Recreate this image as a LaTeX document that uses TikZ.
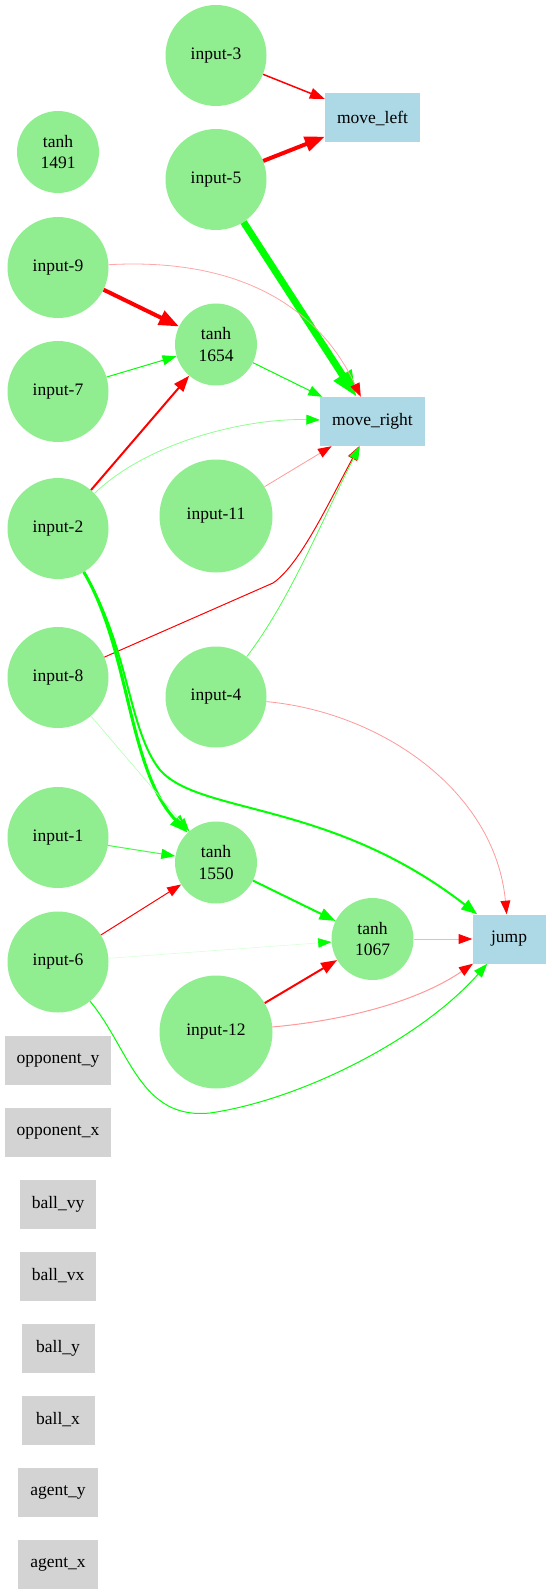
\documentclass[tikz,border=0pt]{standalone}
\usepackage{fontspec}
\setmainfont{Liberation Serif}
\usetikzlibrary{positioning}
\usetikzlibrary{arrows.meta}

\definecolor{nodegreen}{HTML}{90EE90}
\definecolor{outblue}{HTML}{ADD8E6}
\definecolor{sensorgray}{HTML}{D3D3D3}
\definecolor{posw}{HTML}{00FF00}
\definecolor{negw}{HTML}{FF0000}
\newcommand{\netfont}{\fontsize{17.5}{21.5}\selectfont}

\tikzset{
  neuron/.style={circle, fill=nodegreen, minimum size=101pt, inner sep=0pt, align=center, font=\netfont},
  hiddenneuron/.style={neuron, minimum size=82pt},
  wideneuron/.style={neuron, minimum size=113pt},
  outbox/.style={rectangle, fill=outblue, minimum width=73pt, minimum height=49pt, inner xsep=12pt, font=\netfont},
  sensorbox/.style={outbox, fill=sensorgray},
  poswire/.style={draw=posw, -{Triangle[length=12pt 2, width=8.5pt 1.6, color=posw]}},
  negwire/.style={draw=negw, -{Triangle[length=12pt 2, width=8.5pt 1.6, color=negw]}},
}

\begin{document}
\begin{tikzpicture}[x=1pt, y=-1pt, on grid]
   \useasboundingbox (0,0) rectangle (551,1594);

   % first column
   \node[hiddenneuron] (t1491) at (58,152) {tanh\\1491};
   \node[neuron, below=115.5pt of t1491] (in9) {input-9};
   \node[neuron, below=124pt of in9] (in7) {input-7};
   \node[neuron, below=137pt of in7] (in2) {input-2};
   \node[neuron, below=149pt of in2] (in8) {input-8};
   \node[neuron, below=160pt of in8] (in1) {input-1};
   \node[neuron, below=124.5pt of in1] (in6) {input-6};

   \node[sensorbox, below=98pt of in6] (oppy) {opponent\_y};
   \node[sensorbox, below=72pt of oppy] (oppx) {opponent\_x};
   \node[sensorbox, below=72pt of oppx] (ballvy) {ball\_vy};
   \node[sensorbox, below=72pt of ballvy] (ballvx) {ball\_vx};
   \node[sensorbox, below=72pt of ballvx] (bally) {ball\_y};
   \node[sensorbox, below=72pt of bally] (ballx) {ball\_x};
   \node[sensorbox, below=72pt of ballx] (agenty) {agent\_y};
   \node[sensorbox, below=72pt of agenty] (agentx) {agent\_x};

   % second column
   \node[neuron, above right=96.5pt and 158pt of t1491] (in3) {input-3};
   \node[neuron, below=124pt of in3] (in5) {input-5};
   \node[hiddenneuron, below=165pt of in5] (t1654) {tanh\\1654};
   \node[wideneuron, below=171.5pt of t1654] (in11) {input-11};
   \node[neuron, below=181pt of in11] (in4) {input-4};
   \node[hiddenneuron, below=165.5pt of in4] (t1550) {tanh\\1550};
   \node[wideneuron, below=169.5pt of t1550] (in12) {input-12};

   % outputs
   \node[outbox, below right=62.5pt and 156.5pt of in3] (ml) {move\_left};
   \node[outbox, below=303.5pt of ml] (mr) {move\_right};
   \node[hiddenneuron, below=517.5pt of mr] (t1067) {tanh\\1067};
   \node[outbox, right=136.5pt of t1067] (jump) {jump};

   % to move_left
   \draw[negwire, line width=1.5pt] (in3) -- (ml);
   \draw[negwire, line width=4pt] (in5) -- (ml);

   % to move_right
   \draw[poswire, line width=7pt] (in5) -- (mr);
   \draw[negwire, draw=negw!35, line width=0.8pt] (in9) .. controls (230,258) and (315,300) .. (mr);
   \draw[poswire, line width=1pt] (t1654) -- (mr);
   \draw[poswire, draw=posw!45, line width=0.8pt] (in2) .. controls (150,440) and (250,418) .. (mr);
   \draw[negwire, draw=negw!40, line width=0.8pt] (in11) -- (mr);
   \draw[negwire, line width=1pt] (in8) -- (273,583) .. controls (300,565) and (330,500) .. (mr);
   \draw[poswire, draw=posw!70, line width=0.8pt] (in4) .. controls (290,600) and (322,520) .. (mr);

   % to tanh 1654
   \draw[negwire, line width=4pt] (in9) -- (t1654);
   \draw[poswire, line width=1pt] (in7) -- (t1654);
   \draw[negwire, line width=2pt] (in2) -- (t1654);

   % to tanh 1550
   \draw[poswire, line width=3pt] (in2) .. controls (130,650) and (128,770) .. (t1550);
   \draw[poswire, draw=posw!30, line width=0.6pt] (in8) -- (t1550);
   \draw[poswire, draw=posw!75, line width=1pt] (in1) -- (t1550);
   \draw[negwire, line width=1pt] (in6) -- (t1550);

   % to tanh 1067
   \draw[poswire, line width=2pt] (t1550) -- (t1067);
   \draw[poswire, draw=posw!15, line width=0.6pt] (in6) -- (t1067);
   \draw[negwire, line width=2pt] (in12) -- (t1067);

   % to jump
   \draw[poswire, line width=2pt] (in2) .. controls (130,650) and (128,730) .. (160,770)
      .. controls (200,815) and (330,800) .. (jump);
   \draw[negwire, draw=negw!40, line width=0.8pt] (in4) .. controls (380,712) and (495,790) .. (jump);
   \draw[negwire, draw=negw!30, line width=0.8pt] (t1067) -- (jump);
   \draw[negwire, draw=negw!40, line width=1pt] (in12) .. controls (350,1020) and (420,1000) .. (jump);
   \draw[poswire, line width=1pt] (in6) .. controls (130,1050) and (140,1120) .. (210,1113)
      .. controls (300,1100) and (420,1040) .. (jump);
\end{tikzpicture}
\end{document}
